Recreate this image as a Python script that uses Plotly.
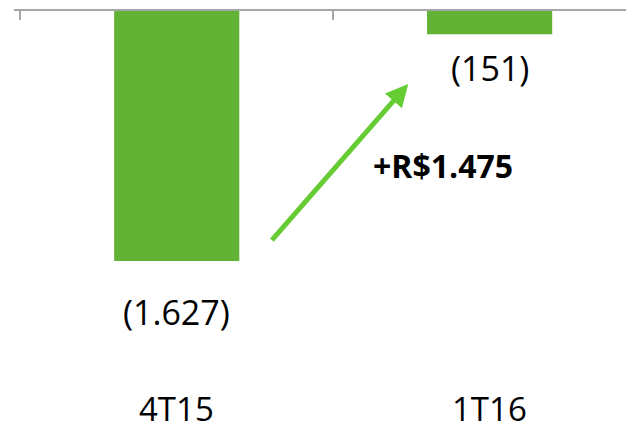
import plotly.graph_objects as go

categories = ["4T15", "1T16"]
values = [-1627, -151]
value_labels = ["(1.627)", "(151)"]
delta_label = "+R$1.475"

BAR_COLOR = "#62B236"
ARROW_COLOR = "#66CC33"
FONT = "Open Sans"

fig = go.Figure()
fig.add_trace(go.Bar(
    x=categories, y=values, width=0.4,
    marker=dict(color=BAR_COLOR, line=dict(width=0)),
    hoverinfo="skip",
))

# value labels below bar ends
for c, v, t in zip(categories, values, value_labels):
    fig.add_annotation(x=c, y=v, text=t, showarrow=False, yanchor="top",
                       yshift=-26 if v < -1000 else -9,
                       font=dict(family=FONT, size=34, color="#000000"))

# category labels at bottom
for c in categories:
    fig.add_annotation(x=c, y=-2589, text=c, showarrow=False,
                       font=dict(family=FONT, size=33, color="#000000"))

# arrow
fig.add_annotation(x=0.74, y=-475, ax=0.30, ay=-1500, xref="x", yref="y",
                   axref="x", ayref="y", text="", showarrow=True,
                   arrowhead=2, arrowsize=0.9, arrowwidth=5,
                   arrowcolor=ARROW_COLOR)
fig.add_annotation(x=0.85, y=-1002, text="<b>" + delta_label + "</b>",
                   showarrow=False,
                   font=dict(family=FONT, size=32, color="#000000"))

fig.update_layout(
    width=634, height=432,
    margin=dict(l=6, r=0, t=3, b=0),
    paper_bgcolor="white", plot_bgcolor="white",
    showlegend=False,
    xaxis=dict(side="top", range=[-0.52, 1.487], showticklabels=False,
               showline=True, linecolor="#A6A6A6", linewidth=2,
               ticks="inside", tickson="boundaries", ticklen=9,
               tickcolor="#A6A6A6", tickwidth=2, showgrid=False,
               zeroline=False, fixedrange=True),
    yaxis=dict(range=[-2791, 0], visible=False, showgrid=False,
               zeroline=False, fixedrange=True),
)

fig.write_html("out.html")
